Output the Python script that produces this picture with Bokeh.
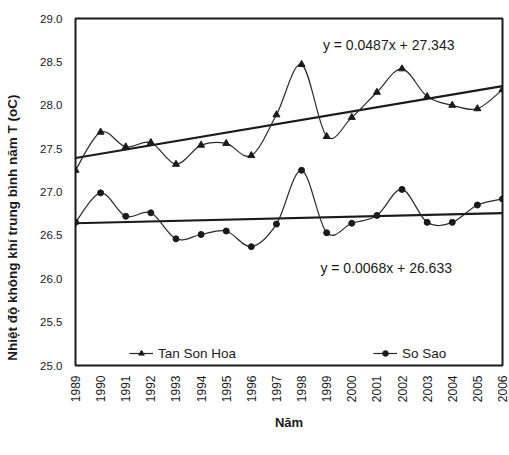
import numpy as np
from math import pi
from bokeh.plotting import figure
from bokeh.models import Range1d, FixedTicker, PrintfTickFormatter, Label, Legend, LegendItem
from bokeh.embed import file_html
from bokeh.resources import INLINE

years = list(range(1989, 2007))
tan_son_hoa = [27.25, 27.69, 27.52, 27.57, 27.32, 27.54, 27.56, 27.42, 27.89,
               28.47, 27.64, 27.86, 28.15, 28.42, 28.10, 28.00, 27.96, 28.18]
so_sao = [26.65, 26.99, 26.72, 26.76, 26.46, 26.51, 26.55, 26.37, 26.63,
          27.25, 26.53, 26.64, 26.73, 27.03, 26.65, 26.65, 26.85, 26.92]
trend_tsh = (0.0487, 27.343)
trend_ss = (0.0068, 26.633)
eq_tsh = "y = 0.0487x + 27.343"
eq_ss = "y = 0.0068x + 26.633"
series_names = ["Tan Son Hoa", "So Sao"]
y_ticks = [25.0, 25.5, 26.0, 26.5, 27.0, 27.5, 28.0, 28.5, 29.0]
x_title = "Năm"
y_title = "Nhiệt độ không khí trung bình năm T (oC)"

FONT = "Liberation Sans"
INK = "#1a1a1a"


def bezier_segments(xs, ys):
    x = np.asarray(xs, float)
    y = np.asarray(ys, float)
    n = len(x)
    xp = np.concatenate([[x[0]], x, [x[-1]]])
    yp = np.concatenate([[y[0]], y, [y[-1]]])
    cx0 = xp[1:n] + (xp[2:n + 1] - xp[0:n - 1]) / 6.0
    cy0 = yp[1:n] + (yp[2:n + 1] - yp[0:n - 1]) / 6.0
    cx1 = xp[2:n + 1] - (xp[3:n + 2] - xp[1:n]) / 6.0
    cy1 = yp[2:n + 1] - (yp[3:n + 2] - yp[1:n]) / 6.0
    return dict(x0=x[:-1], y0=y[:-1], x1=x[1:], y1=y[1:],
                cx0=cx0, cy0=cy0, cx1=cx1, cy1=cy1)


p = figure(frame_width=427, frame_height=347, output_backend="svg",
           toolbar_location=None,
           x_range=Range1d(1989, 2006), y_range=Range1d(25, 29),
           min_border_left=75, min_border_right=7, min_border_top=18,
           min_border_bottom=0)
p.background_fill_color = "white"
p.border_fill_color = "white"
p.outline_line_color = INK
p.outline_line_width = 2
p.xgrid.visible = False
p.ygrid.visible = False

# x axis
p.xaxis.ticker = FixedTicker(ticks=years)
p.xaxis.major_label_orientation = pi / 2
p.xaxis.major_label_text_font = FONT
p.xaxis.major_label_text_font_size = "12px"
p.xaxis.major_label_text_color = INK
p.xaxis.major_label_standoff = 10
p.xaxis.axis_label = x_title
p.xaxis.axis_label_text_font = FONT
p.xaxis.axis_label_text_font_size = "13px"
p.xaxis.axis_label_text_font_style = "bold"
p.xaxis.axis_label_text_color = INK
p.xaxis.axis_label_standoff = 10

# y axis (title sits lower than centre in the original; pad with no-break spaces)
p.yaxis.ticker = FixedTicker(ticks=y_ticks)
p.yaxis.formatter = PrintfTickFormatter(format="%.1f")
p.yaxis.major_label_text_font = FONT
p.yaxis.major_label_text_font_size = "11.5px"
p.yaxis.major_label_text_color = INK
p.yaxis.major_label_standoff = 13
p.yaxis.axis_label = y_title + "\u00a0" * 19
p.yaxis.axis_label_text_font = FONT
p.yaxis.axis_label_text_font_size = "13.5px"
p.yaxis.axis_label_text_font_style = "bold"
p.yaxis.axis_label_text_color = INK
p.yaxis.axis_label_standoff = 17

for ax in (p.xaxis, p.yaxis):
    ax.axis_line_color = None
    ax.major_tick_line_color = None
    ax.minor_tick_line_color = None
    ax.major_tick_out = 0
    ax.major_tick_in = 0
    ax.minor_tick_out = 0

# trend lines
for slope, icpt in (trend_tsh, trend_ss):
    xt = [years[0], years[-1]]
    yt = [slope * (xv - years[0] + 1) + icpt for xv in xt]
    p.line(xt, yt, line_color=INK, line_width=2.2)

# smoothed series
b1 = p.bezier(line_color="#2a2a2a", line_width=1.2, **bezier_segments(years, tan_son_hoa))
s1 = p.scatter(years, tan_son_hoa, marker="triangle", size=7, fill_color=INK, line_color=INK)
b2 = p.bezier(line_color="#2a2a2a", line_width=1.2, **bezier_segments(years, so_sao))
s2 = p.scatter(years, so_sao, marker="circle", size=6, fill_color=INK, line_color=INK)

# equations
p.add_layout(Label(x=1998.85, y=28.70, text=eq_tsh, text_baseline="middle",
                   text_font=FONT, text_font_size="14px", text_color=INK))
p.add_layout(Label(x=1998.75, y=26.12, text=eq_ss, text_baseline="middle",
                   text_font=FONT, text_font_size="14px", text_color=INK))

legend = Legend(items=[LegendItem(label=series_names[0], renderers=[b1, s1]),
                       LegendItem(label=series_names[1], renderers=[b2, s2])],
                orientation="horizontal", location=(54, 4),
                label_text_font=FONT, label_text_font_size="13.5px",
                label_text_color=INK, glyph_width=24, glyph_height=14,
                label_height=16, label_standoff=5, label_width=91, spacing=124,
                padding=4, margin=0, border_line_color=None,
                background_fill_alpha=0)
p.add_layout(legend, "center")

open("out.html", "w").write(file_html(p, INLINE))
